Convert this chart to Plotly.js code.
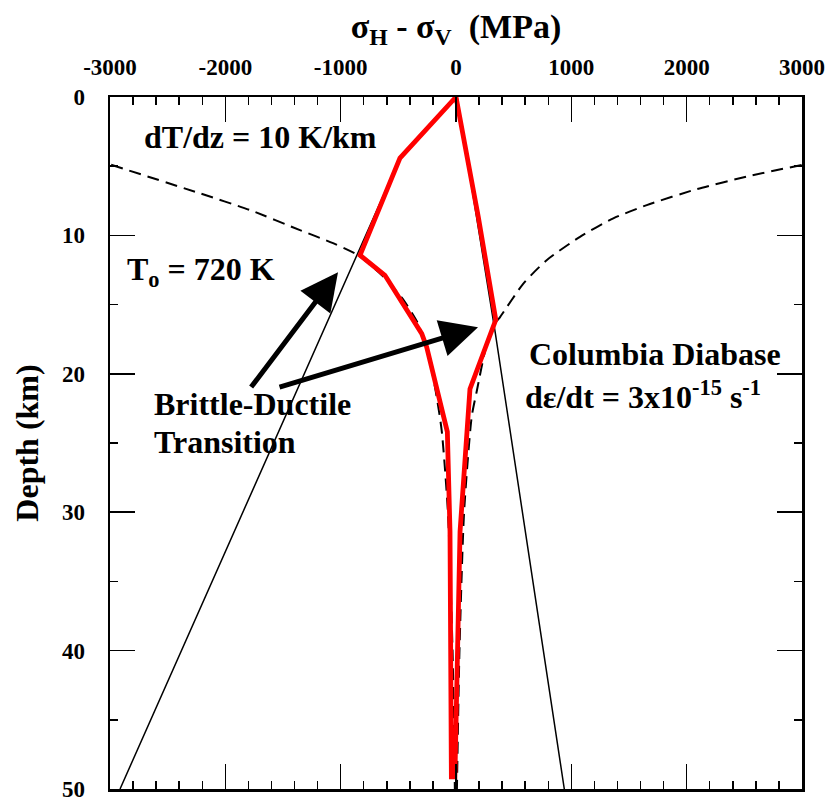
<!DOCTYPE html>
<html>
<head>
<meta charset="utf-8">
<script src="https://cdn.plot.ly/plotly-3.0.1.min.js"></script>
<style>html,body{margin:0;padding:0;background:#fff;}</style>
</head>
<body>
<div id="chart" style="width:828px;height:799px;"></div>
<script>
// ---- data ----
// Strength envelope (red), closed loop: left branch bottom->top, then right branch top->bottom
const envelopeDepth  = [49.3, 31.4, 24.2, 18.07, 17.1, 12.88, 11.43, 4.42, 0, 8.65, 16.1, 21.1, 31.4, 49.3];
const envelopeStress = [-40, -52, -75, -254, -297, -616, -832, -486, 0, 193, 345, 121, 35, -10];

// Brittle (frictional) lines, black thin
const brittleLeftDepth   = [0, 4.42, 50];
const brittleLeftStress  = [0, -486, -2913];
const brittleRightDepth  = [0, 17, 50];
const brittleRightStress = [10, 340, 939];

// Ductile flow curves, black dashed
const ductileLeftDepth   = [4.9, 6.96, 8.17, 9.62, 10.56, 11.43, 12.9, 14.5, 16.2, 18.0, 21.3, 24.1, 30, 40, 50];
const ductileLeftStress  = [-2990, -2220, -1786, -1353, -1066, -850, -640, -470, -340, -255, -175, -124, -70, -30, -10];
const ductileRightDepth  = [4.91, 5.75, 6.66, 7.81, 8.77, 10.10, 11.79, 13.48, 15.90, 16.38, 18.0, 21.3, 23.1, 30, 40, 50];
const ductileRightStress = [2997, 2521, 2087, 1654, 1364, 1075, 786, 584, 382, 338, 262, 179, 136, 70, 30, 8];

// tick labels
const xTickVals   = [-3000, -2000, -1000, 0, 1000, 2000, 3000];
const xTickLabels = ['-3000', '-2000', '-1000', '0', '1000', '2000', '3000'];
const yTickVals   = [0, 10, 20, 30, 40, 50];
const yTickLabels = ['0', '10', '20', '30', '40', '50'];

// ---- drawing ----
const FONT = 'Liberation Serif, Times New Roman, serif';

const traces = [
  {x: brittleLeftStress, y: brittleLeftDepth, mode: 'lines', line: {color: '#000', width: 1.5}, hoverinfo: 'skip'},
  {x: brittleRightStress, y: brittleRightDepth, mode: 'lines', line: {color: '#000', width: 1.5}, hoverinfo: 'skip'},
  {x: ductileLeftStress, y: ductileLeftDepth, mode: 'lines', line: {color: '#000', width: 2, dash: '12px,7px', shape: 'spline', smoothing: 0.6}, hoverinfo: 'skip'},
  {x: ductileRightStress, y: ductileRightDepth, mode: 'lines', line: {color: '#000', width: 2, dash: '12px,7px', shape: 'spline', smoothing: 0.6}, hoverinfo: 'skip'},
  {x: envelopeStress, y: envelopeDepth, mode: 'lines', line: {color: '#ff0000', width: 4.8}, hoverinfo: 'skip'}
];

const annFont = {family: FONT, size: 32, color: '#000', weight: 'bold'};

const layout = {
  width: 828, height: 799,
  margin: {l: 110, r: 26, t: 97, b: 10, pad: 0},
  paper_bgcolor: '#fff', plot_bgcolor: '#fff',
  showlegend: false,
  xaxis: {
    side: 'top', range: [-3000, 3000],
    tickmode: 'array', tickvals: xTickVals, ticktext: xTickLabels,
    ticks: 'inside', ticklen: 25, tickwidth: 1.5, tickcolor: '#000',
    minor: {dtick: 200, tick0: 0, ticks: 'inside', ticklen: 8, tickwidth: 1.5, tickcolor: '#000', showgrid: false},
    mirror: 'allticks', showline: true, linewidth: 2.5, linecolor: '#000',
    showgrid: false, zeroline: false,
    ticklabelstandoff: 10, ticklabeloverflow: 'allow',
    tickfont: {family: FONT, size: 23, color: '#000', weight: 'bold'},
    title: {text: 'σ<sub>H</sub> - σ<sub>V</sub>  (MPa)', font: {family: FONT, size: 34, color: '#000', weight: 'bold'}, standoff: 7}
  },
  yaxis: {
    range: [50, 0],
    tickmode: 'array', tickvals: yTickVals, ticktext: yTickLabels,
    ticks: 'inside', ticklen: 25, tickwidth: 1.5, tickcolor: '#000',
    minor: {dtick: 5, tick0: 0, ticks: 'inside', ticklen: 8, tickwidth: 1.5, tickcolor: '#000', showgrid: false},
    mirror: 'allticks', showline: true, linewidth: 2.5, linecolor: '#000',
    showgrid: false, zeroline: false,
    ticklabelstandoff: 18, ticklabeloverflow: 'allow',
    tickfont: {family: FONT, size: 23, color: '#000', weight: 'bold'},
    title: {text: 'Depth (km)', font: {family: FONT, size: 32, color: '#000', weight: 'bold'}, standoff: 14}
  },
  annotations: [
    {xref: 'x', yref: 'y', x: -2723, y: 2.9, text: 'dT/dz = 10 K/km', showarrow: false, xanchor: 'left', yanchor: 'middle', font: annFont},
    {xref: 'x', yref: 'y', x: -2870, y: 12.6, text: 'T<sub>o</sub> = 720 K', showarrow: false, xanchor: 'left', yanchor: 'middle', font: annFont},
    {xref: 'x', yref: 'y', x: -2636, y: 22.2, text: 'Brittle-Ductile', showarrow: false, xanchor: 'left', yanchor: 'middle', font: annFont},
    {xref: 'x', yref: 'y', x: -2636, y: 24.9, text: 'Transition', showarrow: false, xanchor: 'left', yanchor: 'middle', font: annFont},
    {xref: 'x', yref: 'y', x: 616, y: 18.6, text: 'Columbia Diabase', showarrow: false, xanchor: 'left', yanchor: 'middle', font: annFont},
    {xref: 'x', yref: 'y', x: 581, y: 21.5, text: 'dε/dt = 3x10<sup>-15</sup> s<sup>-1</sup>', showarrow: false, xanchor: 'left', yanchor: 'middle', font: annFont},
    {xref: 'x', yref: 'y', axref: 'x', ayref: 'y', x: -1023, y: 12.66, ax: -1786, ay: 21.07, text: '', showarrow: true, arrowhead: 2, arrowsize: 1.5, arrowwidth: 5, arrowcolor: '#000'},
    {xref: 'x', yref: 'y', axref: 'x', ayref: 'y', x: 191, y: 16.64, ax: -1543, ay: 20.99, text: '', showarrow: true, arrowhead: 2, arrowsize: 1.5, arrowwidth: 5, arrowcolor: '#000'}
  ]
};

Plotly.newPlot('chart', traces, layout, {displayModeBar: false, staticPlot: true});
</script>
</body>
</html>
